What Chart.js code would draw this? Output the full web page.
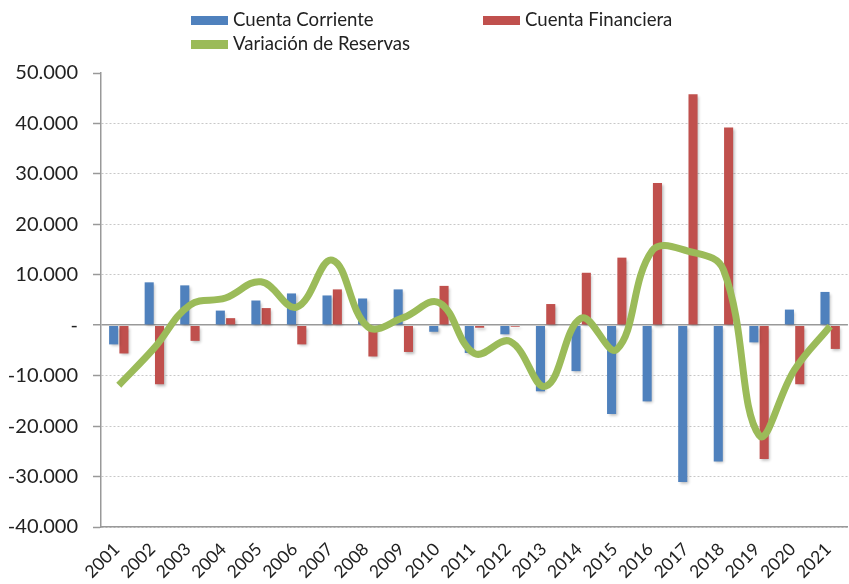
<!DOCTYPE html>
<html>
<head>
<meta charset="utf-8">
<script src="https://cdn.jsdelivr.net/npm/chart.js@4.4.1/dist/chart.umd.min.js"></script>
<style>
  html, body { margin: 0; padding: 0; background: #fff; overflow: hidden; width: 849px; height: 584px; }
  #wrap { position: absolute; left: 0; top: 0; width: 857px; height: 584px; }
  .leg { position: absolute; font-family: Lato, "Noto Sans", sans-serif; font-size: 18.6px; color: #222; line-height: 1; white-space: nowrap; }
  .leg i { display: inline-block; width: 37px; height: 9px; vertical-align: middle; margin-right: 5px; position: relative; top: -1px; }
</style>
</head>
<body>
<div id="wrap"><canvas id="c" width="857" height="584"></canvas></div>
<div class="leg" style="left:191px; top:10px;"><i style="background:#4F81BD"></i>Cuenta Corriente</div>
<div class="leg" style="left:483px; top:10px;"><i style="background:#C0504D"></i>Cuenta Financiera</div>
<div class="leg" style="left:191px; top:34px;"><i style="background:#9BBB59"></i>Variación de Reservas</div>
<script>
const years = ["2001","2002","2003","2004","2005","2006","2007","2008","2009","2010","2011","2012","2013","2014","2015","2016","2017","2018","2019","2020","2021"];
const cuentaCorriente = [-3800, 8500, 7900, 2900, 4900, 6300, 5900, 5300, 7100, -1300, -5500, -1800, -13100, -9100, -17600, -15100, -31100, -27000, -3400, 3100, 6600];
const cuentaFinanciera = [-5600, -11700, -3100, 1400, 3400, -3800, 7100, -6200, -5300, 7800, -500, -300, 4200, 10400, 13400, 28200, 45800, 39200, -26500, -11700, -4700];
const variacionReservas = [-11900, -4500, 4000, 5400, 8600, 3600, 12900, -300, 1500, 4500, -5600, -3200, -12100, 1400, -4800, 14800, 14700, 11000, -21800, -8800, -200];
const yTicks = [50000, 40000, 30000, 20000, 10000, 0, -10000, -20000, -30000, -40000];

function fmt(v) {
  if (v === 0) return '-';
  const s = Math.abs(v).toString().replace(/\B(?=(\d{3})+(?!\d))/g, '.');
  return (v < 0 ? '-' : '') + s;
}

const shadowPlugin = {
  id: 'barShadow',
  beforeDatasetDraw(chart, args) {
    const ds = chart.data.datasets[args.index];
    if (ds.type === 'bar') {
      const ctx = chart.ctx;
      ctx.save();
      ctx.shadowColor = 'rgba(0,0,0,0.28)';
      ctx.shadowBlur = 3;
      ctx.shadowOffsetX = 1.5;
      ctx.shadowOffsetY = 2;
    }
  },
  afterDatasetDraw(chart, args) {
    const ds = chart.data.datasets[args.index];
    if (ds.type === 'bar') {
      chart.ctx.restore();
    }
  }
};

new Chart(document.getElementById('c'), {
  type: 'bar',
  data: {
    labels: years,
    datasets: [
      {
        type: 'line',
        label: 'Variación de Reservas',
        data: variacionReservas,
        borderColor: '#9BBB59',
        borderWidth: 7,
        pointRadius: 0,
        tension: 0.4,
        fill: false,
        order: 0,
        borderCapStyle: 'butt'
      },
      {
        type: 'bar',
        label: 'Cuenta Corriente',
        data: cuentaCorriente,
        backgroundColor: '#4F81BD',
        categoryPercentage: 0.58,
        barPercentage: 0.88,
        order: 1
      },
      {
        type: 'bar',
        label: 'Cuenta Financiera',
        data: cuentaFinanciera,
        backgroundColor: '#C0504D',
        categoryPercentage: 0.58,
        barPercentage: 0.88,
        order: 1
      }
    ]
  },
  options: {
    responsive: false,
    animation: false,
    devicePixelRatio: 1,
    layout: { padding: { top: 73, left: 0, right: 0, bottom: 0 } },
    plugins: { legend: { display: false }, tooltip: { enabled: false } },
    scales: {
      x: {
        grid: { display: false, drawTicks: false },
        border: { display: true, color: '#999', width: 1.5 },
        ticks: {
          maxRotation: 45, minRotation: 45, autoSkip: false,
          font: { family: 'Lato', size: 17.5 }, color: '#222',
          labelOffset: -2, padding: 12
        },
        afterFit(s) { s.height = 57; }
      },
      y: {
        min: -40000, max: 50000,
        afterBuildTicks(s) { s.ticks = yTicks.map(v => ({ value: v })); },
        ticks: {
          callback: v => fmt(v),
          font: { family: 'Lato', size: 20 }, color: '#222', padding: 15
        },
        grid: {
          color: ctx => ctx.tick && ctx.tick.value === 0 ? '#999' : (ctx.tick && ctx.tick.value === 50000 ? 'rgba(0,0,0,0)' : '#c8c8c8'),
          lineWidth: ctx => ctx.tick && ctx.tick.value === 0 ? 1.5 : 1,
          tickColor: '#999', tickLength: 8, tickWidth: 1.5
        },
        border: { display: true, color: '#999', width: 1.5, dash: ctx => (ctx.tick && ctx.tick.value === 0) ? [] : [2, 2] },
        afterFit(s) { s.width = 101; }
      }
    }
  },
  plugins: [shadowPlugin]
});
</script>
</body>
</html>
